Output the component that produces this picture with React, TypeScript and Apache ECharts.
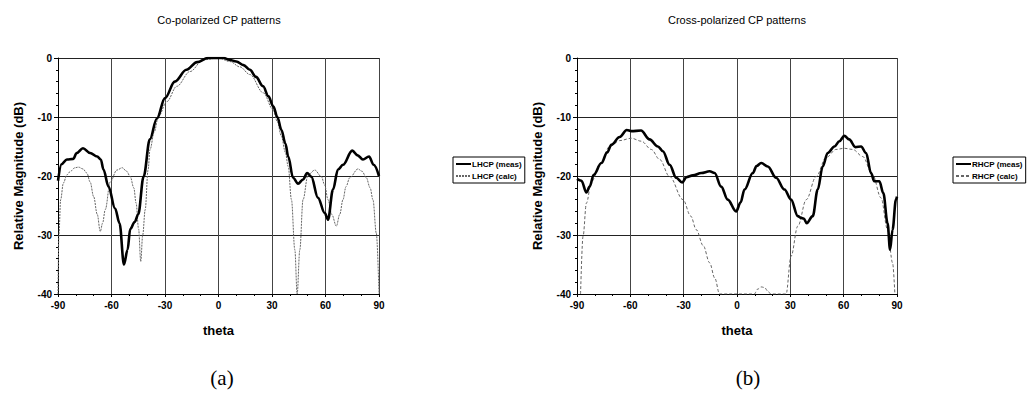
import React, { useEffect, useRef } from 'react';
import * as echarts from 'echarts';

const FONT = "'Liberation Sans', Arial, sans-serif";

const thetaMin = -90;
const thetaMax = 90;
const thetaStep = 30;
const dbMin = -40;
const dbMax = 0;
const dbStep = 10;

const titles = ['Co-polarized CP patterns', 'Cross-polarized CP patterns'];
const subLabels = ['(a)', '(b)'];
const xName = 'theta';
const yName = 'Relative Magnitude (dB)';
const legendA = ['LHCP (meas)', 'LHCP (calc)'];
const legendB = ['RHCP (meas)', 'RHCP (calc)'];

const lhcpMeas: [number, number][] = [
  [-90, -20.8], [-88, -18], [-85, -17.2], [-81.5, -17.1], [-79.5, -16.1], [-76, -15.3], [-72, -16.1],
  [-68, -16.7], [-66, -17.2], [-64.5, -18.9], [-61.7, -21.8], [-58, -25.5], [-55.5, -28], [-53, -35],
  [-51, -32.5], [-49.5, -29], [-47, -27.8], [-45, -26.5], [-42, -20.1], [-38.5, -13.8], [-34.6, -10.3],
  [-30, -6.8], [-24.5, -4], [-18, -2], [-12, -0.7], [-6, 0], [0, 0], [3, 0], [6, -0.3], [10, -0.6],
  [14, -1.2], [17.6, -2], [21, -3.2], [25, -4.8], [28, -6.5], [30.7, -8.2], [33, -10], [35.3, -12.2],
  [37.5, -14.5], [39.1, -16.7], [41.8, -20.3], [44.6, -21.3], [47.4, -20.6], [49.7, -19.5], [52, -20.1],
  [55.8, -23.7], [59.6, -26.3], [61.4, -27.4], [64.2, -22.3], [67, -18.9], [69.8, -18.1], [75, -15.7],
  [78, -16.5], [81, -17.2], [84.4, -16.7], [87, -18.1], [90, -20],
];

const lhcpCalc: [number, number][] = [
  [-90, -40], [-89.5, -30], [-88.5, -24], [-87, -21.2], [-85, -19.8], [-83, -19.2], [-80.5, -18.6],
  [-78.5, -18.5], [-76, -18.8], [-73.8, -19.5], [-72, -21], [-70, -23.5], [-68, -26.5], [-66.3, -29.4],
  [-65, -28], [-63.5, -25.7], [-60.7, -21], [-57, -19], [-54, -18.6], [-51.5, -19.2], [-49.5, -20.1],
  [-47.5, -22], [-46.2, -24.6], [-44.8, -29], [-43.6, -34.5], [-42.5, -30], [-41.1, -25.7], [-39.5, -19],
  [-38.4, -15.5], [-36, -12.5], [-33.7, -9.9], [-29, -7.4], [-23.4, -4.8], [-16, -2.3], [-8.5, -0.3],
  [0, 0], [6.4, -0.6], [12, -1.5], [17.6, -2.8], [25.1, -5.9], [30.7, -8.8], [33, -10.8], [35.3, -13.3],
  [37.5, -16], [39.1, -18.4], [40.9, -24], [42.8, -32.5], [44.1, -40], [45.6, -32.5], [47.4, -24],
  [50.2, -19.8], [54, -19], [57.7, -20.1], [59.5, -21.5], [61.4, -24], [63.5, -26.5], [66.1, -28.5],
  [68, -26.5], [69.8, -24], [71.5, -21.8], [73.6, -20.3], [78.2, -18.8], [80.5, -19.2], [82.9, -20.3],
  [85, -22], [86.6, -24], [88.5, -29.7], [90, -40],
];

const rhcpMeas: [number, number][] = [
  [-90, -20.5], [-87.5, -20.8], [-84.7, -22.8], [-82.9, -21.8], [-80.6, -19.8], [-76.3, -17.8], [-73, -16],
  [-70.7, -14.7], [-66, -13.4], [-62, -12.2], [-59.4, -12.4], [-54, -12.3], [-49.2, -13.8], [-44.5, -15],
  [-41.7, -15.8], [-37.9, -18.1], [-34.2, -20.3], [-30.8, -21.1], [-28.5, -20.2], [-24.8, -19.9],
  [-20.1, -19.5], [-15.4, -19.2], [-12.6, -19.5], [-8.9, -21.8], [-5.2, -24], [-0.5, -26], [2, -24.5],
  [4.2, -22.3], [8.9, -19.5], [11, -18.3], [13.6, -17.8], [17.3, -18.4], [22, -20.3], [26.7, -22.3],
  [30.4, -24], [34.2, -26.8], [36.1, -27.1], [37.5, -27.2], [39.2, -28], [42.6, -26.8], [45.4, -22.3],
  [48.2, -18.4], [51, -16.1], [54.8, -15], [57.6, -14.1], [60.4, -13.2], [63.1, -13.8], [66.6, -15.1],
  [69.8, -15], [72.6, -16.1], [75.4, -19.5], [77.2, -20.9], [80.1, -20.9], [82.3, -22.9], [84.7, -28],
  [86.1, -32.5], [87.5, -29.1], [89.4, -24], [90, -23.5],
];

const rhcpCalc: [number, number][] = [
  [-88, -40], [-86.6, -30.2], [-84.7, -24.6], [-81.9, -21], [-77.2, -18.1], [-71.6, -15], [-66, -14],
  [-59.4, -13.6], [-53.8, -14.1], [-48.2, -15.5], [-43.5, -17.2], [-37.9, -20.1], [-30.4, -24],
  [-26, -26.8], [-22.9, -29.1], [-19, -31.8], [-15.4, -34.7], [-12.5, -37.3], [-9.8, -40], [9.8, -40],
  [11.5, -39.2], [13.6, -38.8], [15.5, -38.9], [17.3, -39.5], [19, -40], [27.6, -40], [30.4, -33.6],
  [34.2, -28.5], [39, -24], [44.5, -20.1], [50.1, -16.9], [55.7, -15.5], [60.4, -15.3], [65.1, -15.5],
  [70.7, -16.7], [76.3, -19.8], [81, -23.7], [84.7, -29.1], [87.5, -34.7], [88.8, -40],
];

function makeX(gridIndex: number) {
  return {
    type: 'value',
    gridIndex,
    min: thetaMin,
    max: thetaMax,
    interval: thetaStep,
    name: xName,
    nameLocation: 'middle',
    nameGap: 30,
    nameTextStyle: { fontFamily: FONT, fontSize: 13, fontWeight: 'bold', color: '#000' },
    axisLine: { show: true, onZero: false, lineStyle: { color: '#000', width: 1 } },
    axisTick: { show: true, length: 3, lineStyle: { color: '#000' } },
    minorTick: { show: true, splitNumber: 3, length: 2, lineStyle: { color: '#000' } },
    axisLabel: { fontFamily: FONT, fontSize: 10, fontWeight: 'bold', color: '#000', margin: 6 },
    splitLine: { show: true, lineStyle: { color: '#444', width: 1 } },
  };
}

function makeY(gridIndex: number) {
  return {
    type: 'value',
    gridIndex,
    min: dbMin,
    max: dbMax,
    interval: dbStep,
    name: yName,
    nameLocation: 'middle',
    nameGap: 33,
    nameRotate: 90,
    nameTextStyle: { fontFamily: FONT, fontSize: 13, fontWeight: 'bold', color: '#000' },
    axisLine: { show: true, onZero: false, lineStyle: { color: '#000', width: 1 } },
    axisTick: { show: true, length: 4, lineStyle: { color: '#000' } },
    minorTick: { show: true, splitNumber: 5, length: 2, lineStyle: { color: '#000' } },
    axisLabel: { fontFamily: FONT, fontSize: 10, fontWeight: 'bold', color: '#000', margin: 6 },
    splitLine: { show: true, lineStyle: { color: '#222', width: 1 } },
  };
}

function makeLegend(data: string[], left: number, top: number) {
  return {
    data,
    left,
    top,
    orient: 'vertical',
    borderColor: '#000',
    borderWidth: 1,
    borderRadius: 0,
    padding: [3, 3, 3, 2],
    itemGap: 4,
    itemWidth: 15,
    itemHeight: 7,
    itemStyle: { color: 'rgba(0,0,0,0)', borderColor: 'rgba(0,0,0,0)', borderWidth: 0 },
    textStyle: { fontFamily: FONT, fontSize: 8, fontWeight: 'bold', color: '#000', padding: [0, 0, 0, -4] },
  };
}

function measSeries(name: string, data: [number, number][], idx: number) {
  return {
    name,
    type: 'line',
    xAxisIndex: idx,
    yAxisIndex: idx,
    data,
    symbol: 'none',
    smooth: 0.35,
    smoothMonotone: 'x',
    itemStyle: { color: '#000' },
    lineStyle: { color: '#000', width: 2.6 },
    z: 3,
  };
}

function calcSeries(name: string, data: [number, number][], idx: number, dash: number[]) {
  return {
    name,
    type: 'line',
    xAxisIndex: idx,
    yAxisIndex: idx,
    data,
    symbol: 'none',
    smooth: 0.35,
    smoothMonotone: 'x',
    itemStyle: { color: '#666' },
    lineStyle: { color: '#666', width: 1, type: dash },
    z: 2,
  };
}

export default function App() {
  const ref = useRef<HTMLDivElement>(null);
  useEffect(() => {
    const chart = echarts.init(ref.current!, null, { renderer: 'svg' });
    const serif = "'Liberation Serif', 'Times New Roman', serif";
    const option = {
      animation: false,
      backgroundColor: '#fff',
      grid: [
        { left: 58, top: 58, width: 321, height: 236 },
        { left: 577, top: 58, width: 320, height: 236 },
      ],
      xAxis: [makeX(0), makeX(1)],
      yAxis: [makeY(0), makeY(1)],
      legend: [makeLegend(legendA, 453, 157), makeLegend(legendB, 953, 157)],
      series: [
        calcSeries(legendA[1], lhcpCalc, 0, [2, 1]),
        measSeries(legendA[0], lhcpMeas, 0),
        calcSeries(legendB[1], rhcpCalc, 1, [3, 2]),
        measSeries(legendB[0], rhcpMeas, 1),
      ],
      graphic: [
        { type: 'text', x: 219, y: 20, style: { text: titles[0], textAlign: 'center', textVerticalAlign: 'middle', fontFamily: FONT, fontSize: 11, fill: '#000' } },
        { type: 'text', x: 737, y: 20, style: { text: titles[1], textAlign: 'center', textVerticalAlign: 'middle', fontFamily: FONT, fontSize: 11, fill: '#000' } },
        { type: 'text', x: 222, y: 378, style: { text: subLabels[0], textAlign: 'center', textVerticalAlign: 'middle', fontFamily: serif, fontSize: 21, fill: '#000' } },
        { type: 'text', x: 748, y: 378, style: { text: subLabels[1], textAlign: 'center', textVerticalAlign: 'middle', fontFamily: serif, fontSize: 21, fill: '#000' } },
      ],
    };
    chart.setOption(option as any);
    return () => chart.dispose();
  }, []);
  return (
    <div
      ref={ref}
      style={{ position: 'absolute', left: 0, top: 0, width: 1029, height: 406, background: '#fff' }}
    />
  );
}
